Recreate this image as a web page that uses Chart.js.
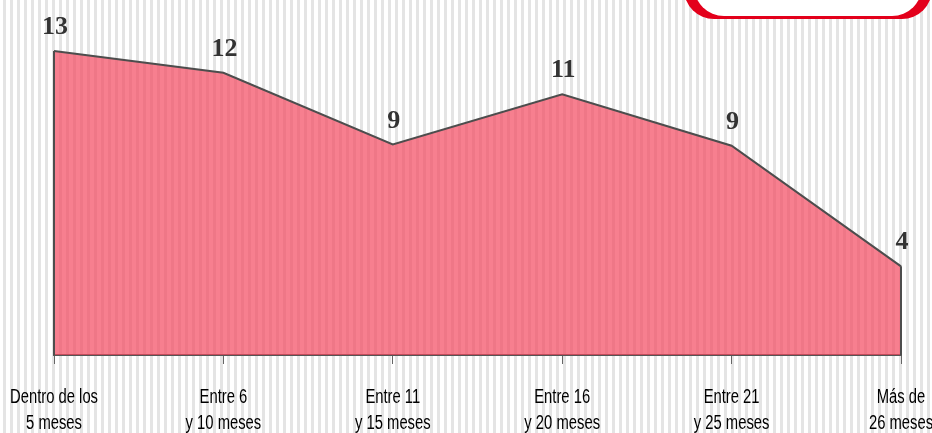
<!DOCTYPE html>
<html><head><meta charset="utf-8">
<script src="https://cdn.jsdelivr.net/npm/chart.js@4/dist/chart.umd.min.js"></script>
<style>html,body{margin:0;padding:0;background:#fff;}#wrap{width:932px;height:433px;position:relative;}</style>
</head><body><div id="wrap"><canvas id="c" width="932" height="433"></canvas></div>
<script>
const categories = [["Dentro de los","5 meses"],["Entre 6","y 10 meses"],["Entre 11","y 15 meses"],["Entre 16","y 20 meses"],["Entre 21","y 25 meses"],["Más de","26 meses"]];
const values = [13, 12.07, 9, 11.15, 8.95, 3.79];
const valueLabels = ["13","12","9","11","9","4"];

const stripes = {
  id:'stripes',
  beforeDraw(chart){
    const ctx = chart.ctx;
    ctx.save();
    ctx.fillStyle='#fff';ctx.fillRect(0,0,chart.width,chart.height);
    ctx.fillStyle='#e4e4e4';
    for(let x=3;x<chart.width;x+=7){ctx.fillRect(x,0,3,chart.height);}
    ctx.restore();
  }
};
const extras = {
  id:'extras',
  afterDatasetsDraw(chart){
    const ctx = chart.ctx;
    const meta = chart.getDatasetMeta(0);
    const xs = chart.scales.x;
    const y0 = chart.scales.y.getPixelForValue(0);
    const pts = meta.data;
    ctx.save();
    ctx.strokeStyle='#4d4d4d';ctx.lineWidth=2;
    ctx.beginPath();
    ctx.moveTo(pts[0].x,pts[0].y);ctx.lineTo(pts[0].x,y0);
    ctx.moveTo(pts[pts.length-1].x,pts[pts.length-1].y);ctx.lineTo(pts[pts.length-1].x,y0);
    ctx.stroke();
    ctx.fillStyle='#333';
    ctx.font='bold 26px "Liberation Serif", serif';
    ctx.textAlign='center';ctx.textBaseline='alphabetic';
    pts.forEach((p,i)=>{ctx.fillText(valueLabels[i],p.x+1,p.y-17);});
    // category labels (condensed)
    ctx.fillStyle='#000';
    ctx.font='20px "Liberation Sans", Arial, sans-serif';
    categories.forEach((lines,i)=>{
      const x = xs.getPixelForTick(i);
      lines.forEach((t,j)=>{
        ctx.save();
        ctx.translate(x, y0 + 48 + j*26);
        ctx.scale(0.74,1);
        ctx.fillText(t,0,0);
        ctx.restore();
      });
    });
    // red rounded box at top right
    ctx.fillStyle='#e3001b';
    ctx.beginPath();ctx.roundRect(684,-60,248,79,30);ctx.fill();
    ctx.fillStyle='#fff';
    ctx.beginPath();ctx.roundRect(694,-60,228,76,30);ctx.fill();
    ctx.restore();
  }
};

new Chart(document.getElementById('c'),{
  type:'line',
  data:{labels:categories,datasets:[{data:values,fill:'origin',backgroundColor:'rgba(244,72,96,0.7)',borderColor:'#4d4d4d',borderWidth:2,pointRadius:0,tension:0}]},
  options:{
    responsive:false,animation:false,
    layout:{padding:{left:54,right:31,top:0,bottom:0}},
    plugins:{legend:{display:false},tooltip:{enabled:false}},
    scales:{
      y:{display:false,min:0,max:15.18},
      x:{offset:false,
        grid:{drawOnChartArea:false,drawTicks:true,tickLength:9,color:'#666',lineWidth:1},
        border:{display:true,color:'#555',width:2},
        ticks:{callback:()=>'',maxRotation:0,autoSkip:false,padding:0},
        afterFit(s){s.height=78;}
      }
    }
  },
  plugins:[stripes,extras]
});
</script></body></html>
